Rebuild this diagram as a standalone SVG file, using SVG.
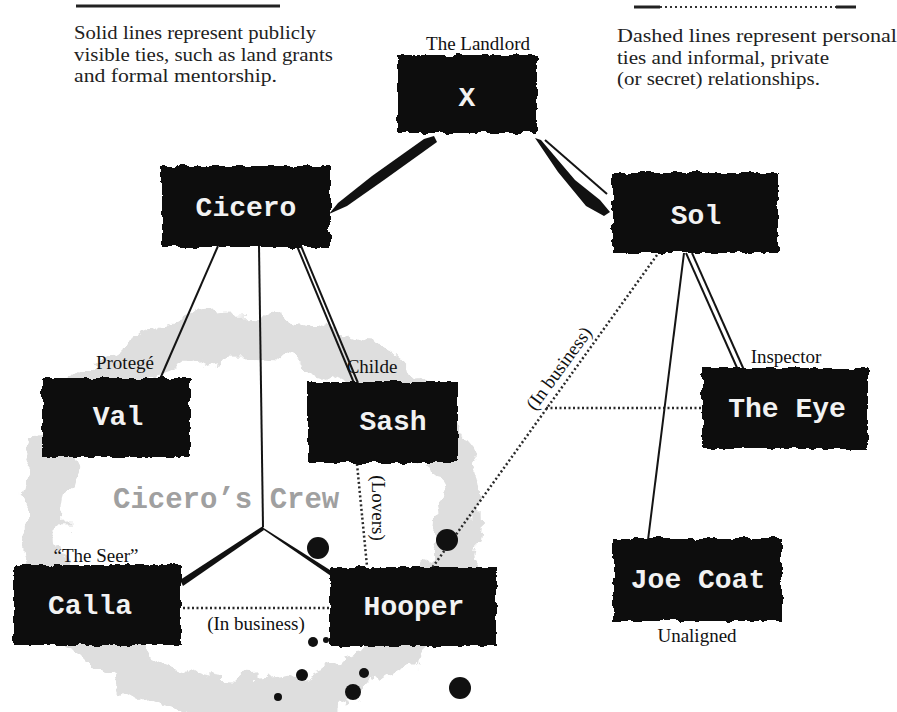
<svg xmlns="http://www.w3.org/2000/svg" width="897" height="712" viewBox="0 0 897 712">
<style>
.box{fill:#0a0a0a;filter:url(#rough)}
.hl{stroke:#b5b5b5;stroke-width:3;fill:none;filter:url(#rough)}
.nt{font-family:"Liberation Mono",monospace;font-weight:bold;font-size:28px;fill:#f2f2f2;text-anchor:middle}
.lb{font-family:"Liberation Serif",serif;font-size:19px;fill:#111;text-anchor:middle}
.lg{font-family:"Liberation Serif",serif;font-size:19px;fill:#222}
.sl{stroke:#141414;stroke-width:2;fill:none}
.dl{stroke:#2a2a2a;stroke-width:2.5;fill:none;stroke-dasharray:2 2.5}
.ink{fill:#111}
</style>
<defs>
<filter id="rough" x="-5%" y="-10%" width="110%" height="120%">
<feTurbulence type="fractalNoise" baseFrequency="0.09" numOctaves="3" seed="4" result="n"/>
<feDisplacementMap in="SourceGraphic" in2="n" scale="7" xChannelSelector="R" yChannelSelector="G"/>
</filter>
<filter id="stain" x="-20%" y="-20%" width="140%" height="140%">
<feTurbulence type="fractalNoise" baseFrequency="0.03" numOctaves="4" seed="9" result="n"/>
<feDisplacementMap in="SourceGraphic" in2="n" scale="40" xChannelSelector="R" yChannelSelector="G"/>
</filter>
</defs>
<rect width="897" height="712" fill="#ffffff"/>

<g id="crew-stain">
<ellipse cx="250" cy="518" rx="210" ry="182" fill="none" stroke="#dedede" stroke-width="44" filter="url(#stain)"/>
</g>

<g id="legend">
<line x1="76" y1="6" x2="280" y2="6" stroke="#222" stroke-width="3"/>
<text class="lg" x="74" y="39" textLength="242" lengthAdjust="spacingAndGlyphs">Solid lines represent publicly</text>
<text class="lg" x="74" y="60.5" textLength="259" lengthAdjust="spacingAndGlyphs">visible ties, such as land grants</text>
<text class="lg" x="74" y="82" textLength="203" lengthAdjust="spacingAndGlyphs">and formal mentorship.</text>
<line x1="634" y1="7" x2="660" y2="7" stroke="#222" stroke-width="3"/>
<line x1="660" y1="7" x2="836" y2="7" stroke="#333" stroke-width="2" stroke-dasharray="2 3"/>
<line x1="836" y1="7" x2="856" y2="7" stroke="#222" stroke-width="3"/>
<text class="lg" x="617" y="42" textLength="280" lengthAdjust="spacingAndGlyphs">Dashed lines represent personal</text>
<text class="lg" x="617" y="63.5" textLength="212" lengthAdjust="spacingAndGlyphs">ties and informal, private</text>
<text class="lg" x="617" y="85" textLength="203" lengthAdjust="spacingAndGlyphs">(or secret) relationships.</text>
</g>

<g id="crew-label">
<text x="113" y="508" font-family="Liberation Mono, monospace" font-weight="bold" font-size="29" fill="#a0a0a0">Cicero’s Crew</text>
</g>

<g id="connectors">
<path class="ink" d="M434,136 L424,139 L372,176 L338,203 L329,214 L347,206 L384,180 L437,142 Z"/>
<path class="ink" d="M535,138 L541,140 L575,180 L600,200 L610,212 L604,216 L586,206 L558,172 Z"/>
<line class="sl" x1="545" y1="140" x2="607" y2="194" stroke-width="1.5"/>
<line class="sl" x1="218" y1="246" x2="160" y2="379"/>
<line class="sl" x1="259" y1="246" x2="263" y2="527"/>
<line class="sl" x1="297" y1="246" x2="354" y2="383"/>
<line class="sl" x1="301" y1="246" x2="358" y2="383"/>
<path class="ink" d="M263,526 L180,580 L183,586 L264,530 Z"/>
<path class="ink" d="M262,527 L330,570 L331,576 L264,530 Z"/>
<line class="dl" x1="183" y1="608" x2="329" y2="608"/>
<line class="dl" x1="357" y1="464" x2="367" y2="566"/>
<line class="dl" x1="657" y1="255" x2="432" y2="568"/>
<line class="dl" x1="546" y1="408" x2="702" y2="408"/>
<line class="sl" x1="686" y1="253" x2="738" y2="370" stroke-width="2.5"/>
<line class="sl" x1="692" y1="253" x2="744" y2="370"/>
<line class="sl" x1="684" y1="253" x2="648" y2="540"/>
<text class="lb" x="256" y="630">(In business)</text>
<text class="lb" transform="translate(372,508) rotate(90)">(Lovers)</text>
<text class="lb" transform="translate(564,372) rotate(-54)">(In business)</text>
</g>

<g id="splatter">
<circle class="ink" cx="318" cy="548" r="11"/>
<circle class="ink" cx="447" cy="540" r="11"/>
<circle class="ink" cx="313" cy="642" r="5"/>
<circle class="ink" cx="326" cy="640" r="3"/>
<circle class="ink" cx="302" cy="675" r="6"/>
<circle class="ink" cx="364" cy="673" r="5"/>
<circle class="ink" cx="353" cy="692" r="8"/>
<circle class="ink" cx="278" cy="697" r="4"/>
<circle class="ink" cx="460" cy="688" r="11"/>
</g>

<g id="node-x">
<rect class="box" x="398" y="55" width="139" height="78"/>
<line class="hl" x1="400" y1="55" x2="535" y2="55"/>
<text class="nt" x="467" y="106" font-size="40">X</text>
<text class="lb" x="478" y="50">The Landlord</text>
</g>
<g id="node-cicero">
<rect class="box" x="162" y="166" width="168" height="81"/>
<line class="hl" x1="164" y1="166" x2="328" y2="166"/>
<text class="nt" x="246" y="216">Cicero</text>
</g>
<g id="node-sol">
<rect class="box" x="612" y="173" width="166" height="80"/>
<line class="hl" x1="614" y1="173" x2="776" y2="173"/>
<text class="nt" x="696" y="224">Sol</text>
</g>
<g id="node-val">
<rect class="box" x="42" y="378" width="148" height="79"/>
<line class="hl" x1="44" y1="378" x2="188" y2="378"/>
<text class="nt" x="118" y="425">Val</text>
<text class="lb" x="125" y="369">Protegé</text>
</g>
<g id="node-sash">
<rect class="box" x="308" y="382" width="150" height="81"/>
<line class="hl" x1="310" y1="382" x2="456" y2="382"/>
<text class="nt" x="393" y="430">Sash</text>
<text class="lb" x="372" y="373">Childe</text>
</g>
<g id="node-eye">
<rect class="box" x="702" y="368" width="166" height="81"/>
<line class="hl" x1="704" y1="368" x2="866" y2="368"/>
<text class="nt" x="787" y="417">The Eye</text>
<text class="lb" x="786" y="363">Inspector</text>
</g>
<g id="node-calla">
<rect class="box" x="14" y="565" width="167" height="80"/>
<line class="hl" x1="16" y1="565" x2="179" y2="565"/>
<text class="nt" x="90" y="614">Calla</text>
<text class="lb" x="96" y="562">“The Seer”</text>
</g>
<g id="node-hooper">
<rect class="box" x="330" y="567" width="166" height="79"/>
<line class="hl" x1="332" y1="567" x2="494" y2="567"/>
<text class="nt" x="414" y="615">Hooper</text>
</g>
<g id="node-joecoat">
<rect class="box" x="613" y="538" width="169" height="83"/>
<line class="hl" x1="615" y1="538" x2="780" y2="538"/>
<text class="nt" x="698" y="588">Joe Coat</text>
<text class="lb" x="697" y="642">Unaligned</text>
</g>
</svg>
